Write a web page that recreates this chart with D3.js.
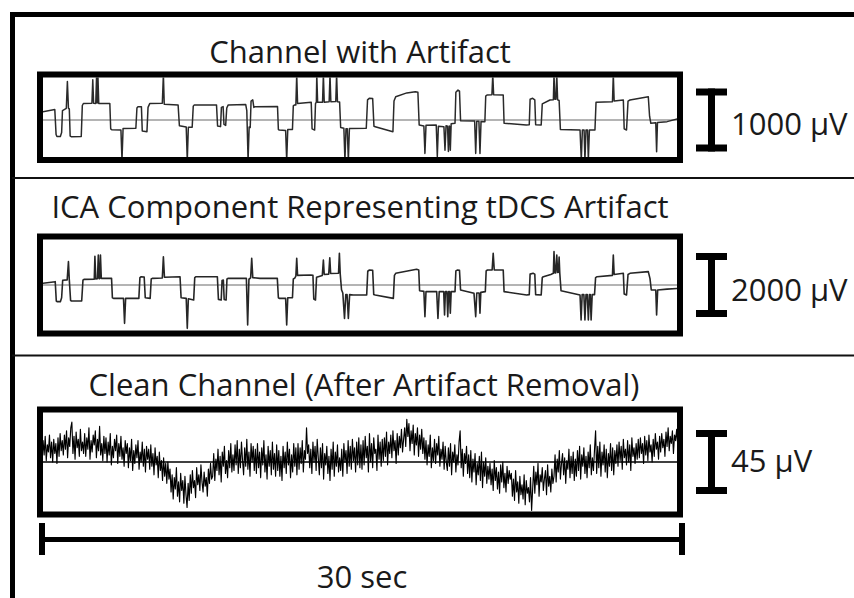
<!DOCTYPE html>
<html>
<head>
<meta charset="utf-8">
<script src="https://cdn.jsdelivr.net/npm/d3@7"></script>
<style>
  html, body { margin: 0; padding: 0; background: #fff; }
  svg { display: block; }
  text { font-family: "Open Sans", "Noto Sans", sans-serif; fill: #1a1a1a; }
</style>
</head>
<body>
<svg id="chart" width="854" height="598"></svg>
<script>
// ---- data -------------------------------------------------------------
const panelTitles = [
  "Channel with Artifact",
  "ICA Component Representing tDCS Artifact",
  "Clean Channel (After Artifact Removal)"
];
const scaleBarValues = [1000, 2000, 45];     // µV represented by each vertical bar
const scaleBarUnit = "µV";
const timeSpanSec = 30;                       // duration shown in every trace
const timeBarLabel = "30 sec";

// raw EEG channel contaminated by the tDCS artifact: [seconds, µV]
const channelWithArtifact = [
  [0.00,130],[0.60,165],[0.66,-230],[0.70,-262],[0.86,-262],[0.92,-200],[0.96,150],[1.14,185],
  [1.19,610],[1.24,185],[1.28,175],[1.32,-255],[1.37,-265],[1.84,-262],[1.89,230],[1.94,262],
  [2.34,265],[2.38,640],[2.42,265],[2.52,262],[2.56,720],[2.59,270],[2.62,720],[2.66,262],
  [3.18,262],[3.22,-140],[3.27,-155],[3.70,-160],[3.75,-640],[3.80,-135],[4.40,-130],[4.45,190],
  [4.50,212],[4.66,212],[4.70,-175],[4.92,-185],[4.97,200],[5.05,260],[5.64,265],[5.69,720],
  [5.73,250],[6.38,238],[6.44,-90],[6.76,-110],[6.81,-640],[6.86,-115],[7.04,-115],[7.09,220],
  [7.14,240],[8.18,240],[8.23,-95],[8.37,-105],[8.41,200],[8.49,212],[8.53,-70],[8.61,-85],
  [8.66,190],[8.73,240],[9.55,245],[9.60,150],[9.66,-640],[9.71,-110],[9.76,-120],[9.80,300],
  [9.88,320],[9.93,200],[9.98,212],[11.04,215],[11.08,-150],[11.12,-160],[11.42,-165],[11.47,-640],
  [11.52,-150],[11.74,-150],[11.78,225],[11.84,240],[11.90,240],[11.94,720],[11.98,262],[12.62,280],
  [12.66,-140],[12.78,-160],[12.82,260],[12.86,285],[12.88,720],[12.92,280],[13.15,282],[13.19,720],
  [13.23,282],[13.46,290],[13.50,720],[13.54,290],[13.77,292],[13.81,720],[13.85,290],[13.95,285],
  [14.00,-120],[14.15,-130],[14.20,-640],[14.25,-140],[14.31,-140],[14.36,-640],[14.41,-135],[15.20,-132],
  [15.26,320],[15.34,344],[15.50,340],[15.56,-100],[15.62,-106],[16.45,-185],[16.50,300],[16.58,370],
  [17.10,430],[17.50,450],[17.62,440],[17.68,-80],[17.90,-95],[17.95,-530],[18.00,-85],[18.48,-79],
  [18.53,-580],[18.58,-100],[18.84,-106],[18.89,-480],[18.94,-90],[19.01,-100],[19.05,-500],[19.09,-95],
  [19.11,-100],[19.14,-480],[19.18,-60],[19.36,-53],[19.40,440],[19.50,476],[19.57,460],[19.62,-10],
  [20.28,-15],[20.33,-530],[20.38,-20],[20.48,-20],[20.53,-530],[20.58,-25],[20.76,-26],[20.80,380],
  [20.86,397],[21.09,400],[21.13,720],[21.17,400],[21.62,397],[21.66,-50],[22.70,-79],[22.84,-75],
  [22.88,330],[23.00,344],[23.10,320],[23.14,-75],[23.40,-79],[23.45,255],[23.81,317],[23.97,320],
  [24.00,720],[24.04,330],[24.09,330],[24.13,720],[24.17,320],[24.24,310],[24.30,-150],[25.22,-159],
  [25.28,-635],[25.33,-160],[25.41,-160],[25.45,-635],[25.50,-160],[25.57,-160],[25.61,-635],[25.66,-160],
  [25.92,-159],[25.97,280],[26.74,290],[26.78,720],[26.82,300],[27.25,317],[27.29,-140],[27.40,-159],
  [27.47,300],[27.56,317],[28.42,370],[28.48,60],[28.54,-53],[28.77,-45],[28.81,-505],[28.85,-40],
  [29.30,-26],[29.90,26]
];

// independent component that carries the tDCS artifact: [seconds, µV]
const icaComponent = [
  [0.00,52],[0.62,104],[0.67,-500],[0.71,-521],[0.86,-521],[0.92,-400],[0.97,150],[1.18,160],
  [1.24,729],[1.28,160],[1.34,-480],[1.38,-500],[1.86,-500],[1.92,150],[1.97,177],[2.45,180],
  [2.48,900],[2.52,190],[2.60,195],[2.64,937],[2.68,200],[2.71,200],[2.74,937],[2.78,208],
  [3.26,208],[3.30,-400],[3.35,-417],[3.82,-417],[3.87,-1198],[3.92,-417],[4.54,-417],[4.59,230],
  [4.65,260],[4.79,250],[4.84,-400],[5.07,-417],[5.12,190],[5.17,208],[5.64,220],[5.69,885],
  [5.74,240],[6.47,260],[6.52,-400],[6.76,-417],[6.81,-1354],[6.86,-430],[7.11,-469],[7.16,230],
  [7.22,260],[8.22,260],[8.27,-450],[8.40,-469],[8.44,140],[8.50,156],[8.54,-450],[8.63,-469],
  [8.67,190],[8.73,208],[9.58,210],[9.64,-1250],[9.70,180],[9.78,220],[9.83,833],[9.88,230],
  [10.22,208],[11.03,208],[11.08,-400],[11.12,-417],[11.42,-417],[11.47,-1250],[11.52,-400],[11.74,-400],
  [11.78,190],[11.84,208],[11.90,280],[11.94,833],[11.98,300],[12.60,313],[12.70,300],[12.74,-440],
  [12.82,-469],[12.87,240],[12.95,260],[13.14,300],[13.19,780],[13.23,330],[13.44,340],[13.49,850],
  [13.53,360],[13.90,365],[13.94,990],[13.98,340],[14.04,-150],[14.10,-250],[14.18,-1042],[14.24,-300],
  [14.30,-300],[14.36,-1042],[14.42,-300],[14.59,-313],[15.22,-313],[15.27,430],[15.35,469],[15.50,460],
  [15.55,-300],[15.62,-313],[16.47,-417],[16.52,300],[16.58,365],[17.56,490],[17.66,470],[17.70,-180],
  [17.90,-200],[17.95,-990],[18.00,-208],[18.50,-208],[18.56,-1042],[18.62,-208],[18.83,-208],[18.87,-938],
  [18.91,-208],[18.98,-208],[19.02,-990],[19.06,-208],[19.10,-208],[19.14,-885],[19.18,-208],[19.36,-208],
  [19.40,440],[19.48,469],[19.57,460],[19.62,-156],[20.25,-260],[20.33,-990],[20.38,-250],[20.49,-250],
  [20.53,-885],[20.57,-230],[20.78,-208],[20.82,440],[20.88,469],[21.10,469],[21.15,990],[21.20,469],
  [21.62,469],[21.66,-208],[22.72,-313],[22.84,-300],[22.88,340],[23.02,365],[23.10,340],[23.14,-300],
  [23.40,-313],[23.45,230],[23.50,260],[23.85,330],[23.97,365],[24.00,1042],[24.04,380],[24.08,380],
  [24.13,937],[24.17,390],[24.21,400],[24.24,870],[24.27,380],[24.33,-180],[25.22,-313],[25.27,-1094],
  [25.32,-300],[25.40,-300],[25.45,-1094],[25.50,-300],[25.56,-300],[25.61,-1094],[25.66,-300],[25.70,-300],
  [25.74,-1094],[25.79,-300],[25.90,-300],[25.95,230],[26.02,260],[26.74,300],[26.78,937],[26.82,330],
  [27.25,365],[27.29,-280],[27.40,-313],[27.47,330],[27.56,365],[28.42,417],[28.50,200],[28.56,-156],
  [28.77,-156],[28.81,-938],[28.86,-156],[29.30,-130],[29.90,-104]
];

// cleaned EEG after removing the component, one row per second, 20 samples per row (µV)
const cleanSampleStep = 0.05;
const cleanChannel = [
  2,15,5,18,1,12,7,19,3,14,0,16,6,13,-1,17,4,20,8,15,
  5,19,9,22,3,17,11,24,28,6,18,2,21,10,16,4,23,8,14,6,
  20,4,17,9,24,2,15,7,19,12,22,3,16,8,25,5,13,1,18,6,
  17,0,14,5,20,-2,11,3,16,8,19,-1,13,4,18,2,10,-3,15,6,
  13,-4,10,1,16,-6,8,-1,12,3,15,-5,7,0,14,-3,9,-7,11,2,
  9,-5,12,-3,6,-9,10,-2,4,-11,7,-6,1,-13,3,-10,-1,-15,0,-12,
  -5,-21,-9,-26,-11,-19,-4,-24,-14,-28,-8,-20,-13,-29,-10,-23,-32,-15,-27,-9,
  -22,-6,-18,-13,-25,-4,-16,-9,-20,-2,-14,-21,-7,-17,-11,-24,-5,-15,-1,-12,
  -10,6,-13,2,-6,9,-9,4,-14,7,-3,11,-8,1,-11,8,-4,13,-7,5,
  -6,12,-2,15,-8,9,-4,14,1,-9,10,-3,16,-5,7,-10,13,0,11,-6,
  9,-8,13,-4,7,-11,10,-2,15,-7,5,-12,11,-3,8,-9,14,-5,6,-10,
  12,-6,8,-10,4,-13,11,-4,7,-8,14,-2,9,-11,5,-7,13,-3,10,-9,
  13,-5,10,-1,15,-7,8,2,24,6,12,-4,9,-8,14,0,11,-6,16,3,
  -9,10,-4,13,-12,6,-2,11,-8,4,-13,9,-5,14,-10,7,-3,12,-7,3,
  -6,9,-10,13,0,8,-8,15,-3,11,-5,16,1,10,-7,14,-2,17,-4,12,
  -5,15,-2,18,3,11,-7,20,0,13,-4,17,6,9,-6,19,2,14,-3,16,
  1,17,4,21,-2,14,6,19,3,22,8,15,-1,20,5,18,10,23,7,16,
  24,11,30,18,27,8,22,13,26,5,20,12,24,4,19,9,23,6,17,2,
  15,-2,12,4,19,-4,10,1,16,-1,13,5,18,-3,9,2,14,-5,11,0,
  -6,10,-3,13,-9,7,0,12,-7,5,-2,14,22,-4,9,-10,6,-1,11,-8,
  5,-11,8,-14,2,-7,6,-16,-1,-9,4,-13,7,-18,0,-10,3,-15,-3,-12,
  -1,-16,-5,-20,1,-13,-4,-19,-7,-22,-2,-14,0,-18,-8,-21,-3,-15,-6,-12,
  -8,-24,-12,-27,-6,-21,-14,-29,-10,-23,-16,-26,-9,-30,-13,-22,-18,-28,-11,-34,
  -19,-3,-22,-7,-16,-1,-24,-9,-14,-4,-20,-12,-6,-23,-2,-17,-10,-21,-5,-15,
  -10,5,-14,2,-7,8,-12,-1,6,-9,3,-15,1,-5,9,-11,4,-8,7,-13,
  2,-10,8,-6,11,-12,5,-3,10,-8,4,-11,7,-4,12,-9,3,-6,9,22,
  -8,11,-4,14,-10,7,-2,12,-7,9,-11,6,-3,13,-6,10,-9,8,-1,12,
  -3,14,1,11,-5,16,3,9,-2,15,0,12,-6,17,4,10,-1,13,2,16,
  3,17,6,13,-1,18,5,15,1,19,7,12,0,16,4,20,9,14,2,18,
  7,20,10,16,4,21,11,24,8,18,13,22,6,19,15,23,12,17
];

// ---- layout -----------------------------------------------------------
const svg = d3.select("#chart");
const W = 854, H = 598;
const boxLeft = 40, boxRight = 680;

// vertical geometry of the three panels
const panelLayout = [
  { titleY: 63,  boxTop: 74.5,  boxBottom: 160,   zeroY: 120, barPx: 63, labelDy: 15 },
  { titleY: 218, boxTop: 236.5, boxBottom: 333.5, zeroY: 285, barPx: 64, labelDy: 16 },
  { titleY: 396, boxTop: 409.5, boxBottom: 514.5, zeroY: 462, barPx: 64, labelDy: 10 }
];

const x = d3.scaleLinear().domain([0, timeSpanSec]).range([42, 682]);

const traces = [
  { points: channelWithArtifact, color: "#2a2a2a", width: 1.5, zeroColor: "#6a6a6a", zeroWidth: 1.1 },
  { points: icaComponent,        color: "#262626", width: 1.6, zeroColor: "#6a6a6a", zeroWidth: 1.1 },
  { points: cleanChannel.map((v, i) => [i * cleanSampleStep, v]), color: "#000", width: 1.15, zeroColor: "#000", zeroWidth: 1.3 }
];

// outer frame (open to the right and bottom)
svg.append("path")
  .attr("d", `M12.5,${H} V14.5 H${W}`)
  .attr("fill", "none").attr("stroke", "#000").attr("stroke-width", 5);

// panel separators
[178, 355.5].forEach(yy => {
  svg.append("line")
    .attr("x1", 12).attr("x2", W).attr("y1", yy).attr("y2", yy)
    .attr("stroke", "#111").attr("stroke-width", 2);
});

const defs = svg.append("defs");

panelLayout.forEach((p, i) => {
  const y = d3.scaleLinear()
    .domain([-scaleBarValues[i] / 2, scaleBarValues[i] / 2])
    .range([p.zeroY + p.barPx / 2, p.zeroY - p.barPx / 2]);

  // title
  svg.append("text")
    .attr("x", i === 2 ? 364 : 360).attr("y", p.titleY)
    .attr("text-anchor", "middle")
    .attr("font-size", 31)
    .text(panelTitles[i]);

  // clip to the box interior
  const clipId = "clip" + i;
  defs.append("clipPath").attr("id", clipId)
    .append("rect")
    .attr("x", boxLeft + 3).attr("y", p.boxTop + 3)
    .attr("width", boxRight - boxLeft - 6).attr("height", p.boxBottom - p.boxTop - 6);

  const g = svg.append("g").attr("clip-path", `url(#${clipId})`);

  // zero reference line
  g.append("line")
    .attr("x1", boxLeft).attr("x2", boxRight)
    .attr("y1", y(0)).attr("y2", y(0))
    .attr("stroke", traces[i].zeroColor).attr("stroke-width", traces[i].zeroWidth);

  // signal trace
  const line = d3.line().x(d => x(d[0])).y(d => y(d[1]));
  g.append("path")
    .datum(traces[i].points)
    .attr("d", line)
    .attr("fill", "none")
    .attr("stroke", traces[i].color)
    .attr("stroke-width", traces[i].width)
    .attr("stroke-linejoin", "round");

  // box frame
  svg.append("rect")
    .attr("x", boxLeft).attr("y", p.boxTop)
    .attr("width", boxRight - boxLeft).attr("height", p.boxBottom - p.boxTop)
    .attr("fill", "none").attr("stroke", "#000").attr("stroke-width", 6);

  // amplitude scale bar (I-beam) spanning the labelled value
  const barX = 711.5, half = 15.5;
  const yTop = y(scaleBarValues[i] / 2), yBot = y(-scaleBarValues[i] / 2);
  const bar = svg.append("g").attr("stroke", "#000").attr("stroke-width", 7);
  bar.append("line").attr("x1", barX).attr("x2", barX).attr("y1", yTop).attr("y2", yBot);
  bar.append("line").attr("x1", barX - half).attr("x2", barX + half).attr("y1", yTop + 3.5).attr("y2", yTop + 3.5);
  bar.append("line").attr("x1", barX - half).attr("x2", barX + half).attr("y1", yBot - 3.5).attr("y2", yBot - 3.5);

  svg.append("text")
    .attr("x", 731).attr("y", y(0) + p.labelDy)
    .attr("font-size", 31)
    .text(`${scaleBarValues[i]} ${scaleBarUnit}`);
});

// time scale bar
const tb = svg.append("g").attr("stroke", "#000");
tb.append("line").attr("x1", x(0)).attr("x2", x(timeSpanSec)).attr("y1", 539.5).attr("y2", 539.5).attr("stroke-width", 5);
[0, timeSpanSec].forEach(t => {
  tb.append("line").attr("x1", x(t)).attr("x2", x(t)).attr("y1", 523).attr("y2", 555).attr("stroke-width", 6);
});
svg.append("text")
  .attr("x", x(timeSpanSec / 2)).attr("y", 588)
  .attr("text-anchor", "middle")
  .attr("font-size", 31)
  .text(timeBarLabel);
</script>
</body>
</html>
